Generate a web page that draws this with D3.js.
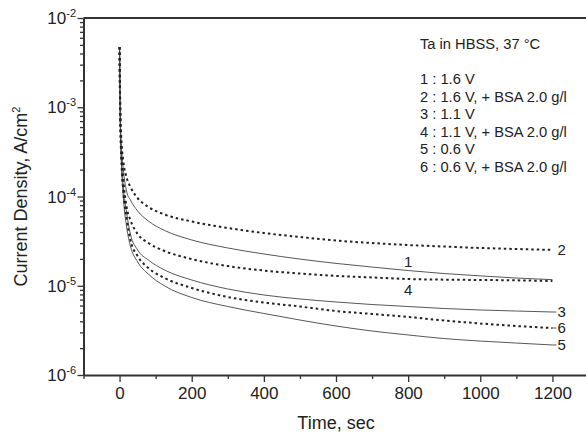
<!DOCTYPE html>
<html lang="en">
<head>
<meta charset="utf-8"/>
<title>Current density vs time</title>
<script src="https://d3js.org/d3.v7.min.js"></script>
<style>
body { margin: 0; background: #fff; }
text { font-family: "Liberation Sans", Arial, sans-serif; fill: #222; }
</style>
</head>
<body>
<script>
// time points, sec
const time = [0, 2, 5, 10, 20, 30, 50, 80, 125, 200, 300, 400, 500, 600, 700, 800, 900, 1000, 1100, 1200]

// current density, A/cm2
const s1 = [4.73e-3, 8.19e-4, 3.78e-4, 2.09e-4, 1.12e-4, 9.14e-5, 6.88e-5, 5.31e-5, 4.16e-5, 3.26e-5, 2.65e-5, 2.27e-5, 1.99e-5, 1.78e-5, 1.62e-5, 1.48e-5, 1.37e-5, 1.29e-5, 1.22e-5, 1.17e-5]
const s2 = [4.73e-3, 8.85e-4, 4.30e-4, 2.56e-4, 1.61e-4, 1.28e-4, 9.62e-5, 7.63e-5, 6.28e-5, 5.25e-5, 4.44e-5, 3.90e-5, 3.52e-5, 3.21e-5, 3.01e-5, 2.86e-5, 2.75e-5, 2.65e-5, 2.58e-5, 2.52e-5]
const s3 = [4.73e-3, 7.20e-4, 2.70e-4, 1.35e-4, 6.37e-5, 3.80e-5, 2.52e-5, 1.94e-5, 1.50e-5, 1.16e-5, 9.20e-6, 7.88e-6, 7.11e-6, 6.58e-6, 6.16e-6, 5.85e-6, 5.56e-6, 5.35e-6, 5.21e-6, 5.08e-6]
const s4 = [4.73e-3, 7.58e-4, 3.15e-4, 1.61e-4, 7.43e-5, 5.45e-5, 3.80e-5, 3.01e-5, 2.45e-5, 1.99e-5, 1.66e-5, 1.48e-5, 1.37e-5, 1.29e-5, 1.24e-5, 1.19e-5, 1.17e-5, 1.16e-5, 1.15e-5, 1.13e-5]
const s5 = [4.73e-3, 6.83e-4, 2.37e-4, 1.04e-4, 4.44e-5, 2.79e-5, 1.85e-5, 1.35e-5, 9.94e-6, 7.39e-6, 5.85e-6, 4.89e-6, 4.13e-6, 3.54e-6, 3.11e-6, 2.81e-6, 2.56e-6, 2.40e-6, 2.28e-6, 2.17e-6]
const s6 = [4.73e-3, 7.20e-4, 2.56e-4, 1.18e-4, 5.45e-5, 3.26e-5, 2.15e-5, 1.58e-5, 1.22e-5, 9.44e-6, 7.48e-6, 6.49e-6, 5.85e-6, 5.21e-6, 4.83e-6, 4.47e-6, 4.08e-6, 3.78e-6, 3.54e-6, 3.36e-6]

const seriesNames = ["1", "2", "3", "4", "5", "6"]
const seriesData = [s1, s2, s3, s4, s5, s6]
const seriesDashed = [false, true, false, true, false, true]

const xMajor = [0, 200, 400, 600, 800, 1000, 1200]
const xMinor = [-100, 100, 300, 500, 700, 900, 1100]
const yMajorExp = [-6, -5, -4, -3, -2]

const legendTitle = "Ta in HBSS, 37 \u00b0C"
const legendLines = ["1 : 1.6 V", "2 : 1.6 V, + BSA 2.0 g/l", "3 : 1.1 V",
                     "4 : 1.1 V, + BSA 2.0 g/l", "5 : 0.6 V", "6 : 0.6 V, + BSA 2.0 g/l"]

const W = 586, H = 435
const mLeft = 83.5, mTop = 18, mBottom = 375

const svg = d3.select("body").append("svg").attr("width", W).attr("height", H)

const x = d3.scaleLinear().domain([-100, 1300]).range([mLeft, 588.5])
const y = d3.scaleLog().domain([1e-6, 1e-2]).range([mBottom, mTop])

// x axis: majors with labels, minors without
const gx = svg.append("g").attr("transform", `translate(0,${mBottom})`)
  .call(d3.axisBottom(x).tickValues(xMajor).tickSize(7).tickSizeOuter(0).tickPadding(5).tickFormat(d3.format("d")))
gx.selectAll("text").style("font-size", "17px").attr("fill", "#222")
svg.append("g").attr("transform", `translate(0,${mBottom})`)
  .call(d3.axisBottom(x).tickValues(xMinor).tickSize(4).tickFormat(""))
  .call(g => g.select(".domain").remove())

// y axis: log, decades with superscript labels
let yMinor = []
yMajorExp.slice(0, -1).forEach(e => { for (let k = 2; k <= 9; k++) yMinor.push(k * Math.pow(10, e)) })
const gy = svg.append("g").attr("transform", `translate(${mLeft},0)`)
  .call(d3.axisLeft(y).tickValues(yMajorExp.map(e => Math.pow(10, e))).tickSize(6).tickSizeOuter(0).tickFormat(""))
svg.append("g").attr("transform", `translate(${mLeft},0)`)
  .call(d3.axisLeft(y).tickValues(yMinor).tickSize(3.5).tickFormat(""))
  .call(g => g.select(".domain").remove())

yMajorExp.forEach(e => {
  const t = svg.append("text").attr("x", 76).attr("y", y(Math.pow(10, e)) + 6)
    .attr("text-anchor", "end").style("font-size", "17px")
  t.append("tspan").text("10")
  t.append("tspan").attr("dy", -7).style("font-size", "11px").text(e)
})

// frame top
svg.append("line").attr("class", "frame").attr("x1", mLeft).attr("x2", W).attr("y1", mTop).attr("y2", mTop)
svg.selectAll(".domain, line").attr("stroke", "#333")
gx.select(".domain").attr("stroke-width", 2)
gy.select(".domain").attr("stroke-width", 2)
svg.select(".frame").attr("stroke-width", 2)
svg.selectAll(".tick line").attr("stroke-width", 1.3)

// axis titles
svg.append("text").attr("x", (mLeft + 588.5) / 2).attr("y", 429).attr("text-anchor", "middle")
  .style("font-size", "18px").text("Time, sec")
const yt = svg.append("text").attr("transform", `translate(27,${(mTop + mBottom) / 2}) rotate(-90)`)
  .attr("text-anchor", "middle").style("font-size", "18px")
yt.append("tspan").text("Current Density, A/cm")
yt.append("tspan").attr("dy", -7).style("font-size", "11px").text("2")

// curves
const line = d3.line().x(d => x(d[0])).y(d => y(d[1])).curve(d3.curveMonotoneX)
seriesData.forEach((s, i) => {
  svg.append("path").datum(time.map((t, j) => [t, s[j]]))
    .attr("d", line).attr("fill", "none")
    .attr("stroke", seriesDashed[i] ? "#222" : "#444")
    .attr("stroke-width", seriesDashed[i] ? 2 : 0.9)
    .attr("stroke-dasharray", seriesDashed[i] ? "2.5,3" : null)
})

// curve labels: 1 and 4 sit above/below at t=800, others at the line ends
const last = time.length - 1
const i800 = time.indexOf(800)
const curveLabels = [
  { n: "1", t: 800, v: s1[i800], dx: 0, dy: -4, anchor: "middle" },
  { n: "4", t: 800, v: s4[i800], dx: 0, dy: 16, anchor: "middle" },
  { n: "2", t: 1200, v: s2[last], dx: 5, dy: 5, anchor: "start" },
  { n: "3", t: 1200, v: s3[last], dx: 5, dy: 5, anchor: "start" },
  { n: "6", t: 1200, v: s6[last], dx: 5, dy: 5, anchor: "start" },
  { n: "5", t: 1200, v: s5[last], dx: 5, dy: 5, anchor: "start" }
]
curveLabels.forEach(d => {
  svg.append("text").attr("x", x(d.t) + d.dx).attr("y", y(d.v) + d.dy)
    .attr("text-anchor", d.anchor).style("font-size", "15px").text(d.n)
})
// short leader from end of curves 3, 5, 6 to their numbers
;[s3, s5, s6].forEach(s => {
  svg.append("line").attr("x1", x(1200)).attr("x2", x(1200) + 4)
    .attr("y1", y(s[last])).attr("y2", y(s[last])).attr("stroke", "#444").attr("stroke-width", 0.9)
})

// legend text
svg.append("text").attr("x", 420).attr("y", 49).style("font-size", "14.7px").text(legendTitle)
legendLines.forEach((l, i) => {
  svg.append("text").attr("x", 420).attr("y", 84 + i * 17.5).style("font-size", "14.7px").text(l)
})
</script>
</body>
</html>
